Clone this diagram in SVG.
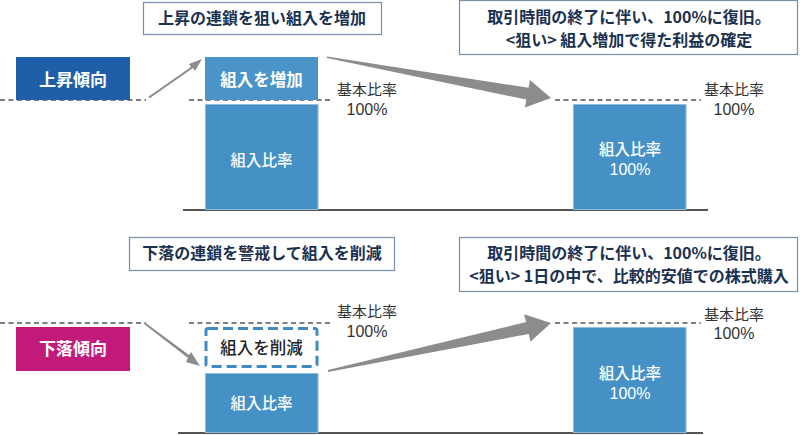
<svg xmlns="http://www.w3.org/2000/svg" width="800" height="435" viewBox="0 0 800 435">
<style>
.callout{fill:#fff;stroke:#7590ab;stroke-width:1.2}
.ct{font-family:"Noto Sans CJK JP","Noto Sans",sans-serif;font-weight:700;font-size:16px;fill:#1b3150;text-anchor:middle}
.tag{font-family:"Noto Sans CJK JP","Noto Sans",sans-serif;font-weight:700;font-size:17px;fill:#fff;text-anchor:middle}
.bt{font-family:"Noto Sans CJK JP","Noto Sans",sans-serif;font-weight:500;font-size:15.5px;fill:#fff;text-anchor:middle}
.bn{font-family:"Liberation Sans",Arial,sans-serif;font-size:16px;fill:#fff;text-anchor:middle}
.bb{font-family:"Noto Sans CJK JP","Noto Sans",sans-serif;font-weight:700;font-size:16.5px;fill:#fff;text-anchor:middle}
.lbl{font-family:"Noto Sans CJK JP","Noto Sans",sans-serif;font-weight:400;font-size:15px;fill:#333;text-anchor:middle}
.num{font-family:"Liberation Sans",Arial,sans-serif;font-size:16px;fill:#333;text-anchor:middle}
.dash{stroke:#555;stroke-width:1.5;stroke-dasharray:5 3.5;fill:none}
.base{stroke:#555;stroke-width:2}
.bar{fill:#4591c5;stroke:#8fbbe0;stroke-width:1}
.arr{fill:#8c8c8c}
</style>
<g id="guides">
<line class="dash" x1="0" y1="100" x2="146" y2="100"/>
<line class="dash" x1="189" y1="100" x2="333" y2="100"/>
<line class="dash" x1="555" y1="100" x2="701" y2="100"/>
<line class="dash" x1="0" y1="323" x2="146" y2="323"/>
<line class="dash" x1="189" y1="323" x2="333" y2="323"/>
<line class="dash" x1="555" y1="323" x2="701" y2="323"/>
<line class="base" x1="183" y1="210" x2="708" y2="210"/>
<line class="base" x1="178" y1="433" x2="703" y2="433"/>
</g>
<g id="callout-up1"><rect class="callout" x="143.5" y="2.5" width="238" height="32"/><text class="ct" x="262" y="24">上昇の連鎖を狙い組入を増加</text></g>
<g id="callout-up2"><rect class="callout" x="459.5" y="0.5" width="338" height="54"/><text class="ct" x="629" y="23">取引時間の終了に伴い、100%に復旧。</text><text class="ct" x="629" y="46">&lt;狙い&gt; 組入増加で得た利益の確定</text></g>
<g id="callout-down1"><rect class="callout" x="129.5" y="237.5" width="265" height="33"/><text class="ct" x="262" y="259">下落の連鎖を警戒して組入を削減</text></g>
<g id="callout-down2"><rect class="callout" x="459.5" y="237.5" width="338" height="54"/><text class="ct" x="629" y="259">取引時間の終了に伴い、100%に復旧。</text><text class="ct" x="629" y="282">&lt;狙い&gt; 1日の中で、比較的安値での株式購入</text></g>
<g id="tag-up"><rect x="16" y="57" width="114" height="43" fill="#1f5ea8"/><text class="tag" x="73" y="85.5">上昇傾向</text></g>
<g id="tag-down"><rect x="16" y="327" width="114" height="44" fill="#c21a7b"/><text class="tag" x="73" y="354.5">下落傾向</text></g>
<g id="up-increase"><rect x="205" y="57" width="113" height="43" fill="#4a94c9"/><text class="bb" x="261.5" y="86">組入を増加</text></g>
<g id="up-bar"><rect class="bar" x="205.5" y="104.5" width="112.5" height="105"/><text class="bt" x="261.5" y="166">組入比率</text></g>
<g id="up-label1"><text class="lbl" x="367" y="95">基本比率</text><text class="num" x="367" y="114.5">100%</text></g>
<g id="up-right-bar"><rect class="bar" x="573.5" y="104.5" width="112.5" height="105"/><text class="bt" x="630" y="155">組入比率</text><text class="bn" x="630" y="175">100%</text></g>
<g id="up-label2"><text class="lbl" x="734" y="95">基本比率</text><text class="num" x="734" y="114.5">100%</text></g>
<g id="down-reduce"><rect x="206" y="328.5" width="111" height="38" rx="2" fill="#fff" stroke="#3f8bc4" stroke-width="3" stroke-dasharray="10 5"/><text x="261.5" y="353.5" font-family="'Noto Sans CJK JP',sans-serif" font-weight="500" font-size="16.5" fill="#222" text-anchor="middle">組入を削減</text></g>
<g id="down-bar"><rect class="bar" x="205.5" y="373.5" width="112.5" height="59"/><text class="bt" x="261.5" y="409">組入比率</text></g>
<g id="down-label1"><text class="lbl" x="367" y="316.5">基本比率</text><text class="num" x="367" y="336.5">100%</text></g>
<g id="down-right-bar"><rect class="bar" x="573.5" y="327.5" width="112.5" height="105"/><text class="bt" x="630" y="378.5">組入比率</text><text class="bn" x="630" y="398.5">100%</text></g>
<g id="down-label2"><text class="lbl" x="734" y="320">基本比率</text><text class="num" x="734" y="339">100%</text></g>
<g id="connectors">
<polygon class="arr" points="148,97 191,67 189,64 202,59 195,71 193,68 150,98"/>
<polygon class="arr" points="327,56.5 528.5,87.8 529.9,79.9 551,98 524.9,107.5 526.3,99.6 327,58"/>
<polygon class="arr" points="145,322.5 189,355 191,352 200,366 186,362 188,358 144,324"/>
<polygon class="arr" points="328,370 526.2,322.1 524,314.3 551,323 530.4,341.7 528.8,333.9 328,372"/>
</g>
</svg>
